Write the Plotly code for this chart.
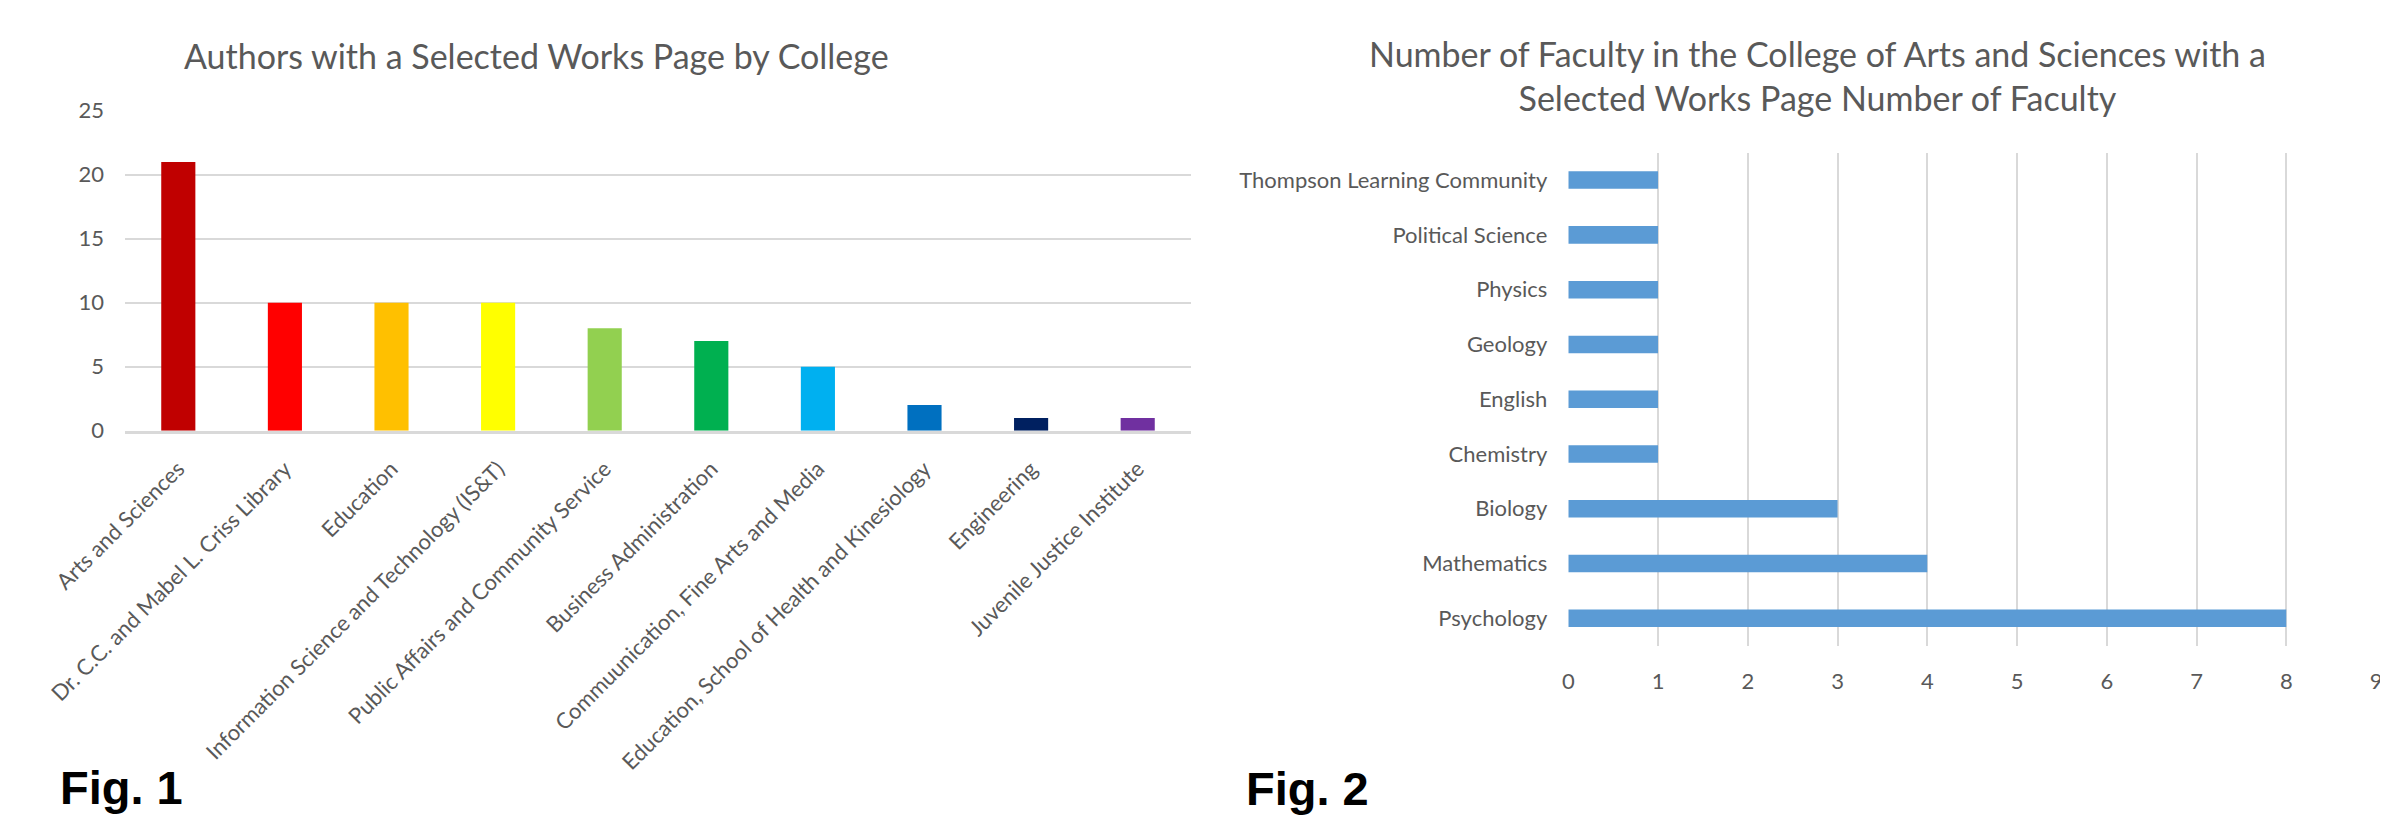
import plotly.graph_objects as go

# The page body has an 8px default margin, so the figure is drawn 8px in from
# the window's top-left corner; positions below are given in window pixels.
WIN_W, WIN_H = 2388, 816
OFF = 8
W, H = WIN_W - OFF, WIN_H - OFF

# ---- data ----
colleges = [
    "Arts and Sciences",
    "Dr. C.C. and Mabel L. Criss Library",
    "Education",
    "Information Science and Technology (IS&T)",
    "Public Affairs and Community Service",
    "Business Administration",
    "Commuunication, Fine Arts and Media",
    "Education, School of Health and Kinesiology",
    "Engineering",
    "Juvenile Justice Institute",
]
authors = [21, 10, 10, 10, 8, 7, 5, 2, 1, 1]
college_colors = ["#C00000", "#FF0000", "#FFC000", "#FFFF00", "#92D050",
                  "#00B050", "#00B0F0", "#0070C0", "#002060", "#7030A0"]

departments = ["Psychology", "Mathematics", "Biology", "Chemistry", "English",
               "Geology", "Physics", "Political Science", "Thompson Learning Community"]
faculty = [8, 4, 3, 1, 1, 1, 1, 1, 1]

title1 = "Authors with a Selected Works Page by College"
title2 = "Number of Faculty in the College of Arts and Sciences with a<br>Selected Works Page Number of Faculty"

TXT = "#595959"
GRID = "#D9D9D9"
FONT = "Lato"

def px_x(p):
    return (p - OFF) / W

def px_y(p):
    return 1 - (p - OFF) / H

fig = go.Figure()

fig.add_trace(go.Bar(
    x=colleges, y=authors, marker=dict(color=college_colors, line=dict(width=0)),
    xaxis="x", yaxis="y", showlegend=False,
))
fig.add_trace(go.Bar(
    x=faculty, y=departments, orientation="h",
    marker=dict(color="#5B9BD5", line=dict(width=0)),
    xaxis="x2", yaxis="y2", showlegend=False,
))

fig.update_layout(
    width=W, height=H,
    margin=dict(l=0, r=0, t=0, b=0, pad=0),
    paper_bgcolor="white", plot_bgcolor="white",
    font=dict(family=FONT, color=TXT, size=22),
    bargap=0.68,
    xaxis=dict(
        domain=[px_x(125), px_x(1191)], anchor="y", automargin=False,
        type="category", tickangle=-45, showgrid=False, zeroline=False,
        showline=True, linecolor=GRID, linewidth=2.5,
        ticks="", ticklabelstandoff=14, tickfont=dict(size=22),
    ),
    yaxis=dict(
        domain=[px_y(430.7), px_y(110.7)], anchor="x", automargin=False,
        range=[0, 25], dtick=5, showgrid=True, gridcolor=GRID, gridwidth=2,
        zeroline=False, showline=False, ticks="", ticklabelstandoff=20,
        tickfont=dict(size=22),
    ),
    xaxis2=dict(
        domain=[px_x(1568.3), px_x(2376)], anchor="y2", automargin=False,
        range=[0, 9], dtick=1, showgrid=True, gridcolor=GRID, gridwidth=2,
        zeroline=False, showline=False, ticks="", ticklabelstandoff=20,
        tickfont=dict(size=22),
    ),
    yaxis2=dict(
        domain=[px_y(645.7), px_y(152.7)], anchor="x2", automargin=False,
        type="category", categoryorder="array", categoryarray=departments,
        showgrid=False, zeroline=False, showline=False, ticks="",
        ticklabelstandoff=20, tickfont=dict(size=22),
    ),
)

ann = []
ann.append(dict(text=title1, x=px_x(536), y=px_y(55), xref="paper", yref="paper",
                xanchor="center", yanchor="middle", showarrow=False,
                font=dict(size=34, color=TXT, family=FONT)))
ann.append(dict(text=title2, x=px_x(1817), y=px_y(76), xref="paper", yref="paper",
                xanchor="center", yanchor="middle", showarrow=False,
                font=dict(size=34, color=TXT, family=FONT)))
ann.append(dict(text="<b>Fig. 1</b>", x=px_x(58), y=px_y(787), xref="paper", yref="paper",
                xanchor="left", yanchor="middle", showarrow=False,
                font=dict(size=47, color="black", family="Liberation Sans")))
ann.append(dict(text="<b>Fig. 2</b>", x=px_x(1244), y=px_y(788), xref="paper", yref="paper",
                xanchor="left", yanchor="middle", showarrow=False,
                font=dict(size=47, color="black", family="Liberation Sans")))
fig.update_layout(annotations=ann)

fig.write_html("out.html")
